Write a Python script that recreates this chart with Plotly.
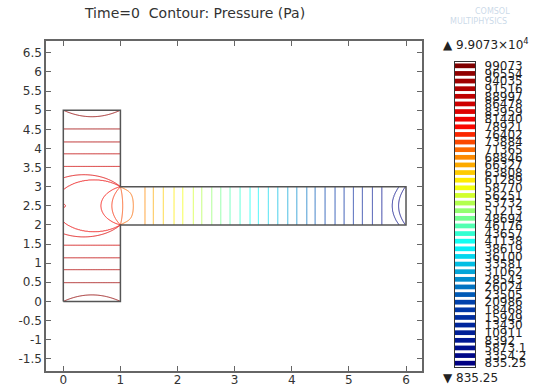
import numpy as np
import plotly.graph_objects as go
from plotly.colors import sample_colorscale

# ---------------- data ----------------
# contour levels (Pa), low -> high, as listed in the legend
levels = [835.25, 3354.2, 5873.1, 8392, 10911, 13430, 15949, 18468, 20986, 23505,
          26024, 28543, 31062, 33581, 36100, 38619, 41138, 43657, 46176, 48694,
          51213, 53732, 56251, 58770, 61289, 63808, 66327, 68846, 71365, 73884,
          76402, 78921, 81440, 83959, 86478, 88997, 91516, 94035, 96554, 99073]

# T-shaped domain outline (m)
domain_x = [0, 1, 1, 6, 6, 1, 1, 0, 0]
domain_y = [0, 0, 2, 2, 3, 3, 5, 5, 0]
col_width, chan_y0, chan_y1 = 1.0, 2.0, 3.0
axis_y = 2.5

# vertical column: horizontal isolines, distance from y=2.5 at the left wall -> level index
col_iso_dist = [0.42, 0.73, 1.03, 1.36, 1.67, 2.01, 2.33]
col_iso_k = [32, 33, 34, 35, 36, 37, 38]
inlet_sag = 0.17          # depth of the isoline arc nearest each inlet

# small closed isoline at the left wall opposite the channel (x, y, radius, level steps)
spot = (0.0, 2.5, 0.045, 0.25)

# junction: isolines crossing the centre line y=2.5 -> level index
junc_iso_x = [0.66, 0.85, 1.04, 1.226, 1.431]
junc_iso_k = [31, 30, 29, 28, 27]

# horizontal channel: isolines crossing the centre line -> level index
chan_iso_x = [1.04, 1.226, 1.431, 1.576, 1.751, 1.939, 2.091, 2.277, 2.424, 2.599,
              2.757, 2.919, 3.095, 3.270, 3.415, 3.590, 3.755, 3.930, 4.088, 4.263,
              4.408, 4.583, 4.758, 4.916, 5.079, 5.236, 5.412, 5.576, 5.76, 5.87]
chan_iso_k = [29, 28, 27, 26, 25, 24, 23, 22, 21, 20,
              19, 18, 17, 16, 15, 14, 13, 12, 11, 10,
              9, 8, 7, 6, 5, 4, 3, 2, 1, 0]
outlet_bend = 0.12        # bow of the isolines next to the outlet

x_ticks = [0, 1, 2, 3, 4, 5, 6]
y_ticks = [-1.5, -1, -0.5, 0, 0.5, 1, 1.5, 2, 2.5, 3, 3.5, 4, 4.5, 5, 5.5, 6, 6.5]


# ---------------- build the pressure field from the read isolines ----------------
def interp_ext(x, xp, fp):
    xp = np.asarray(xp, float)
    fp = np.asarray(fp, float)
    y = np.interp(x, xp, fp)
    s0 = (fp[1] - fp[0]) / (xp[1] - xp[0])
    s1 = (fp[-1] - fp[-2]) / (xp[-1] - xp[-2])
    y = np.where(x < xp[0], fp[0] + (x - xp[0]) * s0, y)
    y = np.where(x > xp[-1], fp[-1] + (x - xp[-1]) * s1, y)
    return y


def subtended(x, y):
    """signed angle (deg) under which the junction opening is seen"""
    zb = (x - col_width) + 1j * (y - chan_y0)
    za = (x - col_width) + 1j * (y - chan_y1)
    with np.errstate(divide='ignore', invalid='ignore'):
        ang = np.angle(zb / za)
    th = np.degrees(np.mod(-ang, 2 * np.pi))
    return np.where(np.isfinite(th), th, 180.0)


def bend(x):
    return outlet_bend * np.clip((x - 5.6) / 0.16, 0, 1)


step = 0.0125
xs = np.round(np.arange(0, 6 + step / 2, step), 4)
ys = np.round(np.arange(0, 5 + step / 2, step), 4)
X, Y = np.meshgrid(xs, ys)
inside = (X <= col_width) | ((Y >= chan_y0) & (Y <= chan_y1))

u = np.abs(Y - axis_y)
ramp = np.clip((u - 2.1) / (col_iso_dist[-1] - 2.1), 0, 1)
u_eff = u - inlet_sag * (2 * X - 1) ** 2 * ramp
k_col = interp_ext(u_eff, col_iso_dist, col_iso_k)

# junction knots: angles of the read crossing points
pts = [(0.0, axis_y + d, k) for d, k in zip(col_iso_dist[:3], col_iso_k[:3])]
pts += [(x, axis_y, k) for x, k in zip(junc_iso_x, junc_iso_k)]
th_k = sorted((float(subtended(np.array(px), np.array(py))), k) for px, py, k in pts)
k_j = np.interp(subtended(X, Y), [t for t, _ in th_k], [k for _, k in th_k])
sx, sy, sr, sa = spot
k_j = k_j + sa * np.exp(-((X - sx) ** 2 + (Y - sy) ** 2) / sr ** 2)

chan_eff = [x + float(bend(np.array(x))) for x in chan_iso_x]
x_eff = X + bend(X) * (1 - 4 * (Y - axis_y) ** 2)
k_ch = interp_ext(x_eff, chan_eff, chan_iso_k)

k_colzone = np.where(u >= 0.9, k_col, np.minimum(k_j, 33.6))
w = np.clip((X - col_width) / 0.35, 0, 1)
k_chzone = (1 - w) * k_j + w * k_ch
K = np.where(X <= col_width, k_colzone, k_chzone)
P = interp_ext(K, list(range(len(levels))), levels)
Z = np.where(inside, np.round(P, 1), np.nan)

# ---------------- figure ----------------
fig = go.Figure()
fig.add_trace(go.Contour(
    x=xs, y=ys, z=Z, zmin=levels[0], zmax=levels[-1], zauto=False,
    colorscale='Jet', autocontour=False, connectgaps=False, opacity=0.85,
    contours=dict(start=levels[0], end=levels[-1],
                  size=(levels[-1] - levels[0]) / (len(levels) - 1),
                  coloring='lines', showlabels=False),
    line=dict(width=1.0), showscale=False, hoverinfo='skip'))

fig.add_trace(go.Scatter(x=domain_x, y=domain_y, mode='lines',
                         line=dict(color='#555555', width=1.5), hoverinfo='skip'))

norm = [(v - levels[0]) / (levels[-1] - levels[0]) for v in levels]
swatch_colors = sample_colorscale('Jet', norm)
fig.add_trace(go.Bar(x=[1] * len(levels), y=list(range(len(levels))), orientation='h',
                     marker=dict(color=swatch_colors, line=dict(width=0)), width=0.62,
                     xaxis='x2', yaxis='y2', hoverinfo='skip'))

font = dict(family='DejaVu Sans', size=12, color='#333333')
l, r, t, b = 46, 5, 41, 14
pw, ph = 542 - l - r, 385 - t - b


def px_x(px):
    return (px - l) / pw


def px_y(py):
    return (385 - b - py) / ph


axis_common = dict(showline=True, linecolor='#666666', linewidth=1.5, showgrid=False,
                   zeroline=False, ticks='inside', ticklen=5, tickcolor='#666666',
                   tickwidth=1.2, mirror='ticks', tickfont=font, automargin=False)
fig.update_layout(
    width=542, height=385, margin=dict(l=l, r=r, t=t, b=b, autoexpand=False),
    paper_bgcolor='white', plot_bgcolor='white', showlegend=False, font=font,
    xaxis=dict(domain=[0, px_x(422)], range=[-0.303, 6.28], tickmode='array',
               tickvals=x_ticks, ticktext=[str(v) for v in x_ticks],
               ticklabelstandoff=-3, **axis_common),
    yaxis=dict(domain=[0, 1], range=[-1.82, 6.81], tickmode='array',
               tickvals=y_ticks, ticktext=[f'{v:g}' for v in y_ticks], **axis_common),
    xaxis2=dict(domain=[px_x(455), px_x(475)], range=[0, 1], anchor='y2',
                showline=True, mirror=True, linecolor='#333333', linewidth=1.2,
                showticklabels=False, ticks='', showgrid=False, zeroline=False,
                automargin=False),
    yaxis2=dict(domain=[px_y(367), px_y(62)], range=[-0.5, len(levels) - 0.5], anchor='x2',
                side='right', tickmode='array', tickvals=list(range(len(levels))),
                ticktext=[f'{v:.5g}' for v in levels], ticks='', showline=True,
                mirror=True, linecolor='#333333', linewidth=1.2, showgrid=False,
                zeroline=False, ticklabelstandoff=6, automargin=False,
                tickfont=dict(family='DejaVu Sans', size=12, color='#222222')),
)

annots = [
    dict(text='Time=0  Contour: Pressure (Pa)', x=px_x(82), y=px_y(13), xanchor='left',
         yanchor='middle', font=dict(family='DejaVu Sans', size=14, color='#333333')),
    dict(text=f'▲ {levels[-1] / 1e4:.4f}×10<sup>4</sup>', x=px_x(441), y=px_y(44),
         xanchor='left', yanchor='middle', font=dict(family='DejaVu Sans', size=12, color='#222222')),
    dict(text=f'▼ {levels[0]:g}', x=px_x(441), y=px_y(378), xanchor='left',
         yanchor='middle', font=dict(family='DejaVu Sans', size=12, color='#222222')),
    dict(text='COMSOL', x=px_x(492), y=px_y(11), xanchor='center', yanchor='middle',
         font=dict(family='DejaVu Sans', size=8, color='rgba(150,180,210,0.5)')),
    dict(text='MULTIPHYSICS', x=px_x(478), y=px_y(22), xanchor='center', yanchor='middle',
         font=dict(family='DejaVu Sans', size=8, color='rgba(150,180,210,0.5)')),
]
for a in annots:
    a.update(xref='paper', yref='paper', showarrow=False)
fig.update_layout(annotations=annots)

fig.write_html('out.html')
